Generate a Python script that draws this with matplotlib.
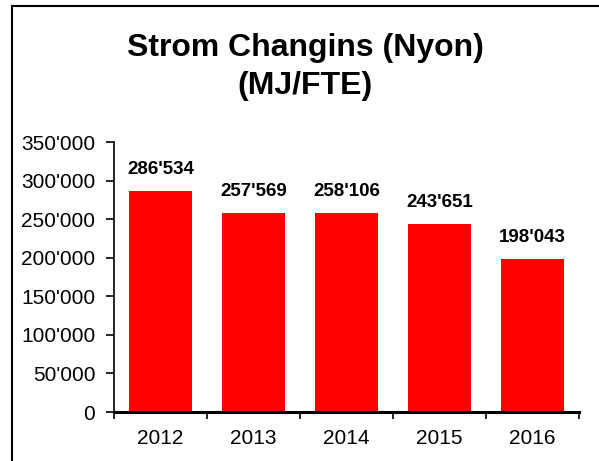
import matplotlib
matplotlib.use("Agg")
import matplotlib.pyplot as plt
from matplotlib.lines import Line2D

years = ["2012", "2013", "2014", "2015", "2016"]
values = [286534, 257569, 258106, 243651, 198043]
value_labels = ["286'534", "257'569", "258'106", "243'651", "198'043"]
yticks = [0, 50000, 100000, 150000, 200000, 250000, 300000, 350000]
ytick_labels = ["0", "50'000", "100'000", "150'000", "200'000",
                "250'000", "300'000", "350'000"]

plt.rcParams['font.family'] = ['Liberation Sans', 'DejaVu Sans']

fig = plt.figure(figsize=(5.99, 4.61), dpi=100)
ax = fig.add_axes([114 / 599, 49 / 461, 465 / 599, 270 / 461])

x = range(len(years))
ax.bar(x, values, width=0.68, color="#ff0000")
for xi, v, lab in zip(x, values, value_labels):
    ax.annotate(lab, (xi, v), xytext=(0, 9.5), textcoords="offset points",
                ha="center", va="bottom", fontsize=13.5, fontweight="bold")

ax.set_xlim(-0.5, len(years) - 0.5)
ax.set_ylim(0, 350000)
ax.set_yticks(yticks)
ax.set_yticklabels(ytick_labels, fontsize=15)
ax.set_xticks(list(x))
ax.set_xticklabels(years, fontsize=15)
ax.tick_params(axis="x", length=0, pad=12)
ax.set_xticks([i - 0.5 for i in range(len(years) + 1)], minor=True)
ax.tick_params(axis="x", which="minor", length=5, width=1.2, direction="out")
ax.tick_params(axis="y", length=5.5, width=1.2, direction="out", pad=8)

for s in ["top", "right"]:
    ax.spines[s].set_visible(False)
ax.spines["left"].set_linewidth(1.2)
ax.spines["bottom"].set_linewidth(2.2)

fig.text(305 / 599, 1 - 67 / 461, "Strom Changins (Nyon)\n(MJ/FTE)",
         ha="center", va="center", fontsize=23, fontweight="bold",
         linespacing=1.35)

# frame around the figure (left and top)
fig.add_artist(Line2D([11.5 / 599, 11.5 / 599], [0.002, 1 - 6.5 / 461],
                      transform=fig.transFigure, color="black", lw=1.5))
fig.add_artist(Line2D([11.5 / 599, 1.0], [1 - 6.5 / 461, 1 - 6.5 / 461],
                      transform=fig.transFigure, color="black", lw=1.5))

fig.savefig("out.png", dpi=100)
